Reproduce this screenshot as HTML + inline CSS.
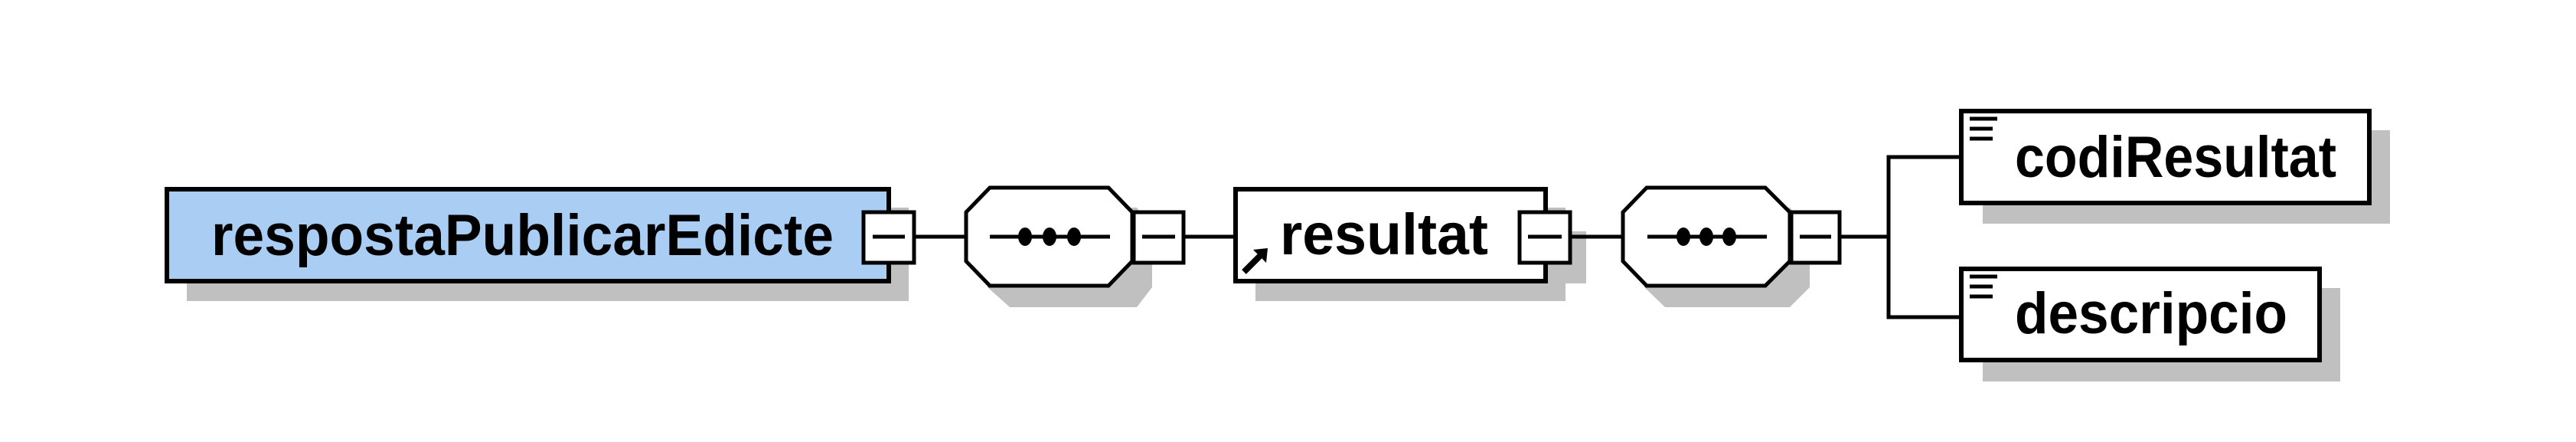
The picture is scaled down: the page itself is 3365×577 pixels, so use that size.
<!DOCTYPE html>
<html><head><meta charset="utf-8"><style>html,body{margin:0;padding:0;background:#fff}svg{display:block}</style></head>
<body>
<svg width="3365" height="577" viewBox="0 0 3365 577" xmlns="http://www.w3.org/2000/svg" font-family="Liberation Sans, Arial, sans-serif" font-weight="bold">
<g fill="#c0c0c0">
  <rect x="244" y="271" width="943" height="122"/>
  <polygon points="1319,271 1485,271 1505,299 1505,375 1485,401 1319,401 1290,375 1290,299"/>
  <rect x="1640" y="271" width="405" height="122"/>
  <rect x="2010" y="302" width="62" height="68"/>
  <polygon points="2175,271 2338,271 2364,299 2364,375 2338,401 2175,401 2148,375 2148,299"/>
  <rect x="2590" y="170" width="532" height="122"/>
  <rect x="2590" y="376" width="467" height="122"/>
</g>
<g stroke="#000" stroke-width="5" fill="none">
  <line x1="1194" y1="309" x2="1261" y2="309"/>
  <line x1="1546" y1="309" x2="1614" y2="309"/>
  <line x1="2051" y1="309" x2="2120" y2="309"/>
  <line x1="2403" y1="309" x2="2467" y2="309"/>
  <polyline points="2562,205 2467,205 2467,414 2562,414"/>
</g>
<rect x="218" y="247" width="943" height="120" fill="#a9cdf3" stroke="#000" stroke-width="6"/>
<text x="276" y="333" font-size="76" textLength="813" lengthAdjust="spacingAndGlyphs">respostaPublicarEdicte</text>
<rect x="1128" y="277" width="66" height="66" fill="#fff" stroke="#000" stroke-width="5"/>
<line x1="1140" y1="309" x2="1182" y2="309" stroke="#000" stroke-width="5"/>

<polygon points="1293,245 1448,245 1479,277 1479,341 1448,373 1293,373 1262,341 1262,277" fill="#fff" stroke="#000" stroke-width="5"/>
<line x1="1293" y1="309" x2="1450" y2="309" stroke="#000" stroke-width="5"/>
<ellipse cx="1339" cy="309" rx="9" ry="12"/><ellipse cx="1371" cy="309" rx="9" ry="12"/><ellipse cx="1403" cy="309" rx="9" ry="12"/>
<rect x="1481" y="277" width="65" height="66" fill="#fff" stroke="#000" stroke-width="5"/>
<line x1="1492" y1="309" x2="1535" y2="309" stroke="#000" stroke-width="5"/>

<rect x="1614" y="247" width="405" height="120" fill="#fff" stroke="#000" stroke-width="6"/>
<text x="1672" y="332" font-size="76" textLength="272" lengthAdjust="spacingAndGlyphs">resultat</text>
<path d="M1625,355 L1650,330" stroke="#000" stroke-width="8"/>
<polygon points="1637,326 1656,324 1654,343"/>
<rect x="1985" y="277" width="66" height="66" fill="#fff" stroke="#000" stroke-width="5"/>
<line x1="1996" y1="309" x2="2040" y2="309" stroke="#000" stroke-width="5"/>

<polygon points="2151,245 2306,245 2338,277 2338,341 2306,373 2151,373 2120,341 2120,277" fill="#fff" stroke="#000" stroke-width="5"/>
<line x1="2152" y1="309" x2="2308" y2="309" stroke="#000" stroke-width="5"/>
<ellipse cx="2199" cy="309" rx="9" ry="12"/><ellipse cx="2229" cy="309" rx="9" ry="12"/><ellipse cx="2259" cy="309" rx="9" ry="12"/>
<rect x="2340" y="277" width="63" height="66" fill="#fff" stroke="#000" stroke-width="5"/>
<line x1="2351" y1="309" x2="2392" y2="309" stroke="#000" stroke-width="5"/>

<rect x="2562" y="145" width="533" height="120" fill="#fff" stroke="#000" stroke-width="6"/>
<g stroke="#000" stroke-width="5"><line x1="2573" y1="155" x2="2609" y2="155"/><line x1="2573" y1="168" x2="2603" y2="168"/><line x1="2573" y1="181" x2="2603" y2="181"/></g>
<text x="2632" y="231" font-size="76" textLength="420" lengthAdjust="spacingAndGlyphs">codiResultat</text>

<rect x="2562" y="351" width="468" height="119" fill="#fff" stroke="#000" stroke-width="6"/>
<g stroke="#000" stroke-width="5"><line x1="2573" y1="361" x2="2609" y2="361"/><line x1="2573" y1="374" x2="2603" y2="374"/><line x1="2573" y1="387" x2="2603" y2="387"/></g>
<text x="2632" y="435" font-size="76" textLength="356" lengthAdjust="spacingAndGlyphs">descripcio</text>
</svg>
</body></html>
